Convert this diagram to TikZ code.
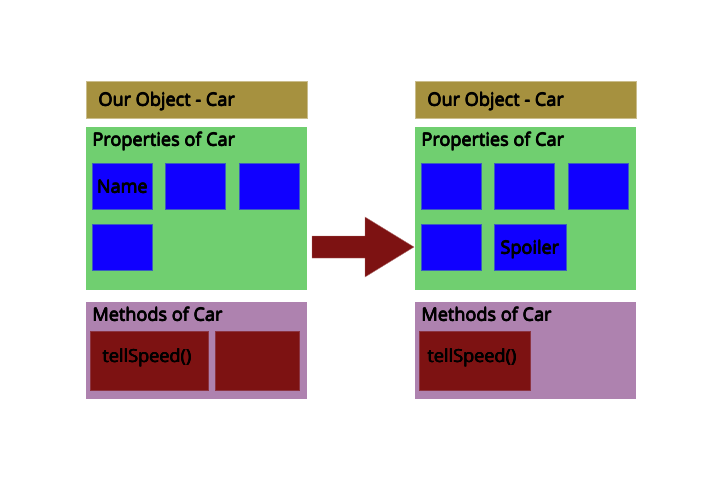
\documentclass[tikz,border=0pt]{standalone}
\usepackage{fontspec}
\setmainfont{Open Sans}
\newcommand\sbtext[1]{\rlap{\hspace{0.75pt}#1}\rlap{\hspace{0.4pt}#1}\rlap{\raisebox{0.2pt}{\hspace{0.4pt}#1}}#1}
\definecolor{titlec}{RGB}{166,145,63}
\definecolor{greenc}{RGB}{112,207,112}
\definecolor{bluec}{RGB}{16,0,255}
\definecolor{purplec}{RGB}{174,130,175}
\definecolor{redc}{RGB}{125,18,18}
\tikzset{
  panel/.style={rectangle, anchor=north west, inner sep=0pt, outer sep=0pt},
  titlebox/.style={panel, fill=titlec, draw=titlec!60!white, line width=0.5pt},
  propbox/.style={panel, fill=greenc},
  methbox/.style={panel, fill=purplec},
  bluebox/.style={panel, fill=bluec, draw=bluec!55!greenc, line width=0.8pt, minimum width=60pt, minimum height=46pt},
  redbox/.style={panel, fill=redc, draw=redc!70!purplec, line width=0.6pt, minimum height=59pt},
  lbl/.style={anchor=base west, inner sep=0pt, font=\fontsize{18.1}{20}\selectfont, text=black},
}
\begin{document}
\begin{tikzpicture}[x=1pt,y=-1pt]
\useasboundingbox (0,0) rectangle (720,480);
\fill[white] (0,0) rectangle (720,480);
% left object
\node[titlebox, minimum width=221pt, minimum height=37pt] (lt) at (86,81) {};
\node[propbox, minimum width=221pt, minimum height=163pt] (lp) at (86,127) {};
\node[methbox, minimum width=221pt, minimum height=97pt] (lm) at (86,302) {};
\node[lbl] (ltx) at (98,106) {\sbtext{Our Object - Car}};
\node[lbl] (lpx) at (92,146) {\sbtext{Properties of Car}};
\node[lbl] (lmx) at (92,321) {\sbtext{Methods of Car}};
\node[bluebox] (lb1) at (92,163) {};
\node[bluebox] (lb2) at (165,163) {};
\node[bluebox] (lb3) at (239,163) {};
\node[bluebox] (lb4) at (92,224) {};
\node[lbl] (lname) at (96.5,193) {\sbtext{Name}};
\node[redbox, minimum width=118pt] (lr1) at (90,331) {};
\node[redbox, minimum width=84pt] (lr2) at (215,331) {};
\node[lbl] (lsp) at (102,362.5) {\sbtext{tellSpeed()}};
% right object
\node[titlebox, minimum width=221pt, minimum height=37pt] (rt) at (415,81) {};
\node[propbox, minimum width=221pt, minimum height=163pt] (rp) at (415,127) {};
\node[methbox, minimum width=221pt, minimum height=97pt] (rm) at (415,302) {};
\node[lbl] (rtx) at (427,106) {\sbtext{Our Object - Car}};
\node[lbl] (rpx) at (421,146) {\sbtext{Properties of Car}};
\node[lbl] (rmx) at (421,321) {\sbtext{Methods of Car}};
\node[bluebox] (rb1) at (421,163) {};
\node[bluebox] (rb2) at (494,163) {};
\node[bluebox] (rb3) at (568,163) {};
\node[bluebox] (rb4) at (421,224) {};
\node[bluebox, minimum width=72pt] (rb5) at (494,224) {};
\node[lbl] (rspoil) at (500,254) {\sbtext{Spoiler}};
\node[redbox, minimum width=111pt] (rr1) at (419,331) {};
\node[lbl] (rsp) at (427,362.5) {\sbtext{tellSpeed()}};
% block arrow
\coordinate (a1) at (312,236);
\coordinate (a2) at (365,236);
\coordinate (a3) at (365,217);
\coordinate (a4) at (414,247);
\coordinate (a5) at (365,277);
\coordinate (a6) at (365,258);
\coordinate (a7) at (312,258);
\filldraw[fill=redc, draw=redc!60!white, line width=0.4pt] (a1) -- (a2) -- (a3) -- (a4) -- (a5) -- (a6) -- (a7) -- cycle;
\end{tikzpicture}
\end{document}
